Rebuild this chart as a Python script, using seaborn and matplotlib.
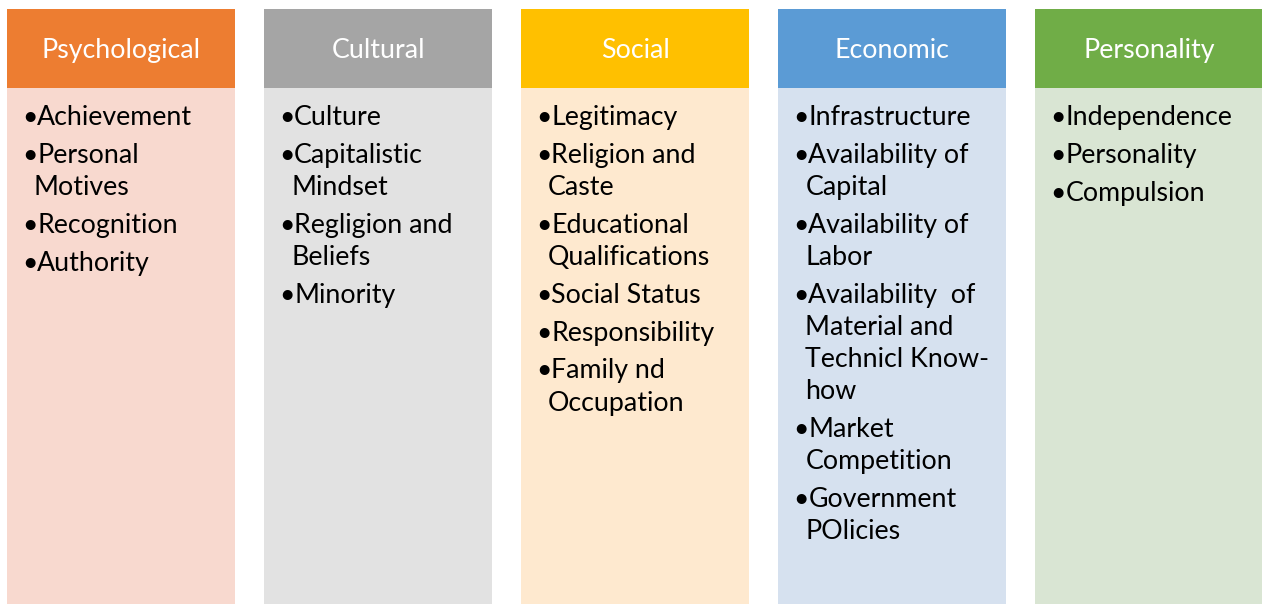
import matplotlib
matplotlib.use("Agg")
import matplotlib.pyplot as plt
import seaborn as sns
import pandas as pd

categories = ["Psychological", "Cultural", "Social", "Economic", "Personality"]
header_colors = ["#ED7D31", "#A5A5A5", "#FFC000", "#5B9BD5", "#70AD47"]
body_colors = ["#F8D9CF", "#E2E2E2", "#FEE9CF", "#D6E1EF", "#D9E5D3"]

psychological_items = ["Achievement", "Personal\nMotives", "Recognition", "Authority"]
cultural_items = ["Culture", "Capitalistic\nMindset", "Regligion and\nBeliefs", "Minority"]
social_items = ["Legitimacy", "Religion and\nCaste", "Educational\nQualifications",
                "Social Status", "Responsibility", "Family nd\nOccupation"]
economic_items = ["Infrastructure", "Availability of\nCapital", "Availability of\nLabor",
                  "Availability  of\nMaterial and\nTechnicl Know-\nhow",
                  "Market\nCompetition", "Government\nPOlicies"]
personality_items = ["Independence", "Personality", "Compulsion"]
items = [psychological_items, cultural_items, social_items, economic_items, personality_items]

W, H = 1262, 604
sns.set_theme(style="white")
plt.rcParams["font.family"] = ["Lato", "DejaVu Sans"]

fig = plt.figure(figsize=(W / 100, H / 100), dpi=100)
ax = fig.add_axes([0, 0, 1, 1])

# pixel geometry
c0, step, colw = 121.0, 257.1, 228.0
def ux(px):
    return (px - c0) / step

header_top = H - 9
header_bot = H - 88

df = pd.DataFrame({"category": categories})
df["header"] = header_top
df["body"] = header_bot

sns.barplot(data=df, x="category", y="header", hue="category", palette=header_colors,
            width=colw / step, linewidth=0, saturation=1, legend=False, ax=ax)
sns.barplot(data=df, x="category", y="body", hue="category", palette=body_colors,
            width=colw / step, linewidth=0, saturation=1, legend=False, ax=ax)

ax.set_xlim(ux(0), ux(W))
ax.set_ylim(0, H)
ax.axis("off")

fs = 19.3
line_gap = 32.2
item_gap = 37.8
for i, (cat, its) in enumerate(zip(categories, items)):
    center = c0 + i * step
    left = center - colw / 2
    ax.text(i, H - 58, cat, color="white", fontsize=fs, ha="center", va="baseline")
    y = 125
    for it in its:
        lines = it.split("\n")
        ax.text(ux(left + 15), H - y, "\u2022", fontsize=fs, ha="left", va="baseline", color="black")
        for k, ln in enumerate(lines):
            xoff = 30 if k == 0 else 27
            ax.text(ux(left + xoff), H - y, ln, fontsize=fs, ha="left", va="baseline", color="black")
            if k < len(lines) - 1:
                y += line_gap
        y += item_gap

fig.savefig("out.png", dpi=100)
